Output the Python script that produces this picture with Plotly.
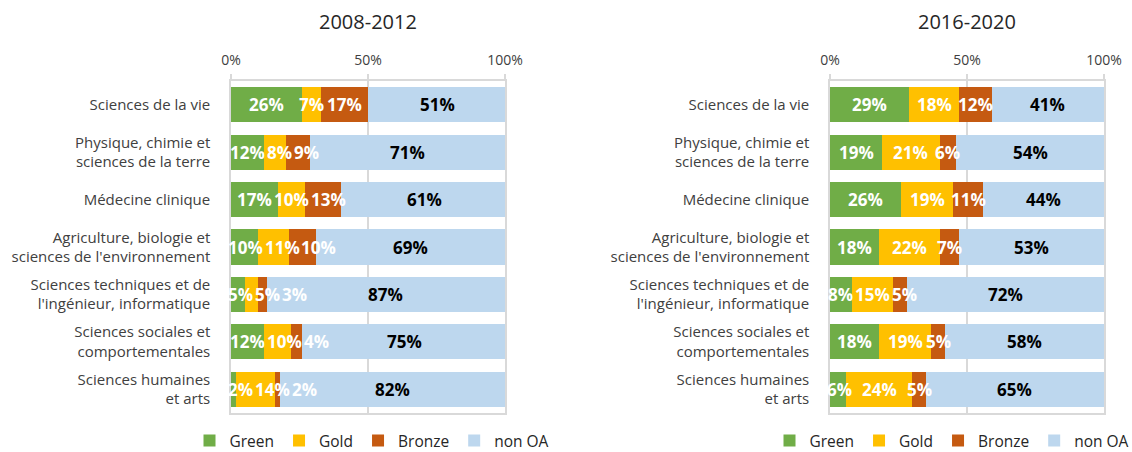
import plotly.graph_objects as go

categories = [
    "Sciences de la vie",
    "Physique, chimie et<br>sciences de la terre",
    "Médecine clinique",
    "Agriculture, biologie et<br>sciences de l'environnement",
    "Sciences techniques et de<br>l'ingénieur, informatique",
    "Sciences sociales et<br>comportementales",
    "Sciences humaines<br>et arts",
]
series_names = ["Green", "Gold", "Bronze", "non OA"]

green_0812 = [26, 12, 17, 10, 5, 12, 2]
gold_0812 = [7, 8, 10, 11, 5, 10, 14]
bronze_0812 = [17, 9, 13, 10, 3, 4, 2]
nonoa_0812 = [51, 71, 61, 69, 87, 75, 82]

green_1620 = [29, 19, 26, 18, 8, 18, 6]
gold_1620 = [18, 21, 19, 22, 15, 19, 24]
bronze_1620 = [12, 6, 11, 7, 5, 5, 5]
nonoa_1620 = [41, 54, 44, 53, 72, 58, 65]

titles = ["2008-2012", "2016-2020"]
tick_vals = [0, 50, 100]
tick_text = ["0%", "50%", "100%"]

colors = ["#70AD47", "#FFC000", "#C55A11", "#BDD7EE"]
text_colors = ["#FFFFFF", "#FFFFFF", "#FFFFFF", "#000000"]
FONT = "Open Sans"
LABEL_SIZE = 17

W, H = 1132, 452
grid = "#D9D9D9"
ydom = [1 - 413 / H, 1 - 81 / H]
xdoms = [[231 / W, 505 / W], [830 / W, 1104 / W]]


def text_width(s, size):
    w = 0.0
    for ch in s:
        w += 0.9 * size if ch == "%" else 0.572 * size
    return w + 2


fig = go.Figure()
annotations = []

panels = [
    ([green_0812, gold_0812, bronze_0812, nonoa_0812], "x", "y", "legend", 0),
    ([green_1620, gold_1620, bronze_1620, nonoa_1620], "x2", "y2", "legend2", 1),
]

for vals, xa, ya, lg, pi in panels:
    for name, v, c in zip(series_names, vals, colors):
        fig.add_trace(go.Bar(
            y=categories, x=v, name=name, orientation="h",
            marker=dict(color=c, line=dict(width=0)),
            xaxis=xa, yaxis=ya, legend=lg, hoverinfo="skip",
        ))
    # data labels: centred on each segment, nudged to avoid overlaps (as in the source)
    ppu = (xdoms[pi][1] - xdoms[pi][0]) * W / 100.0
    for r, cat in enumerate(categories):
        start = 0.0
        prev_right = -1e9
        for s in range(4):
            val = vals[s][r]
            txt = f"{val}%"
            w = text_width(txt, LABEL_SIZE)
            centre = (start + val / 2.0) * ppu
            left = centre - w / 2.0
            left = max(left, -4.0)
            if left < prev_right:
                left = prev_right
            prev_right = left + w
            annotations.append(dict(
                x=(left + w / 2.0) / ppu, y=cat, xref=xa, yref=ya,
                text=txt, showarrow=False, xanchor="center", yanchor="middle",
                font=dict(family=FONT, size=LABEL_SIZE, color=text_colors[s],
                          weight="bold"),
            ))
            start += val

axis_common_x = dict(
    range=[0, 100], side="top", tickvals=tick_vals, ticktext=tick_text,
    ticks="outside", ticklen=5, tickcolor=grid, tickwidth=1.5,
    showline=True, linecolor=grid, linewidth=1.5, mirror=True,
    showgrid=True, gridcolor=grid, gridwidth=1.5, zeroline=False,
    tickfont=dict(family=FONT, size=14, color="#404040"),
    fixedrange=True, ticklabelstandoff=4,
)
axis_common_y = dict(
    autorange="reversed", showline=True, linecolor=grid, linewidth=1.5,
    mirror=True, ticks="", showgrid=False,
    tickfont=dict(family=FONT, size=15, color="#404040"),
    ticklabelstandoff=16, fixedrange=True,
)

for i, t in enumerate(titles):
    annotations.append(dict(
        text=t, x=sum(xdoms[i]) / 2, y=1 - 22 / H,
        xref="paper", yref="paper", showarrow=False,
        xanchor="center", yanchor="middle",
        font=dict(family=FONT, size=20, color="#262626"),
    ))

legend_common = dict(
    orientation="h", y=1 - 441 / H, xanchor="center", yanchor="middle",
    traceorder="normal", font=dict(family=FONT, size=15.5, color="#262626"),
    itemclick=False, itemdoubleclick=False, bgcolor="rgba(0,0,0,0)",
    itemwidth=30,
)

fig.update_layout(
    width=W, height=H,
    margin=dict(l=0, r=0, t=0, b=0, autoexpand=False),
    paper_bgcolor="white", plot_bgcolor="white",
    barmode="stack", bargap=0.26,
    showlegend=True,
    xaxis=dict(domain=xdoms[0], anchor="y", **axis_common_x),
    yaxis=dict(domain=ydom, anchor="x", **axis_common_y),
    xaxis2=dict(domain=xdoms[1], anchor="y2", **axis_common_x),
    yaxis2=dict(domain=ydom, anchor="x2", **axis_common_y),
    legend=dict(x=372 / W, **legend_common),
    legend2=dict(x=952 / W, **legend_common),
    annotations=annotations,
)

fig.write_html("out.html",
               config={"displayModeBar": False},
               post_script="document.body.style.margin='0';document.body.style.overflow='hidden';")
